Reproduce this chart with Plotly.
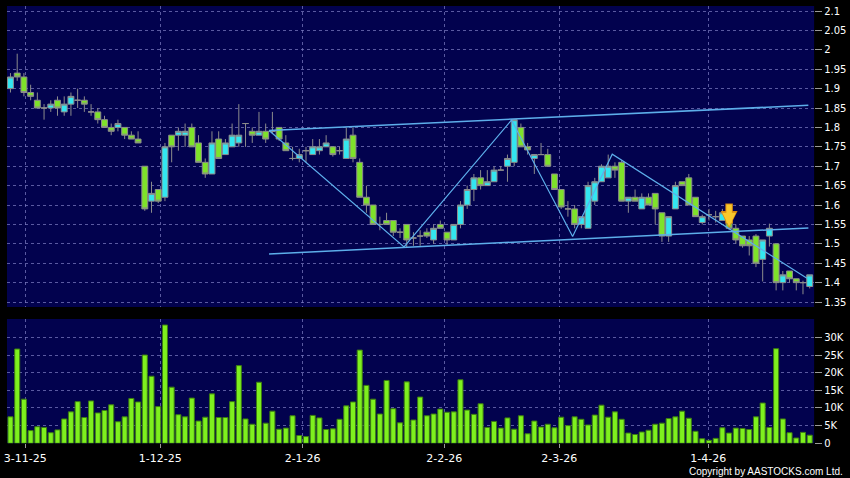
import plotly.graph_objects as go

# ---------------- data ----------------
opens = [1.90, 1.94, 1.93, 1.89, 1.87, 1.85, 1.85, 1.87, 1.84, 1.86,
         1.87, 1.87, 1.84, 1.84, 1.82, 1.80, 1.80, 1.80, 1.78, 1.77,
         1.70, 1.61, 1.64, 1.62, 1.78, 1.78, 1.78, 1.80, 1.76, 1.71,
         1.68, 1.77, 1.73, 1.75, 1.76, 1.81, 1.79, 1.78, 1.79, 1.79,
         1.80, 1.76, 1.72, 1.72, 1.74, 1.73, 1.74, 1.75, 1.75, 1.74,
         1.72, 1.78, 1.71, 1.62, 1.60, 1.55, 1.56, 1.56, 1.53, 1.55,
         1.515, 1.52, 1.53, 1.51, 1.55, 1.53, 1.51, 1.55, 1.60, 1.64,
         1.67, 1.65, 1.66, 1.69, 1.70, 1.71, 1.80, 1.75, 1.72, 1.73,
         1.73, 1.68, 1.64, 1.59, 1.59, 1.55, 1.54, 1.61, 1.66, 1.67,
         1.70, 1.71, 1.61, 1.62, 1.59, 1.62, 1.63, 1.58, 1.52, 1.59,
         1.66, 1.67, 1.62, 1.555, 1.575, 1.57, 1.56, 1.56, 1.54, 1.52,
         1.51, 1.52, 1.46, 1.52, 1.50, 1.40, 1.43, 1.41, 1.40, 1.39]
highs = [1.94, 1.99, 1.94, 1.91, 1.89, 1.86, 1.87, 1.88, 1.88, 1.89,
         1.90, 1.88, 1.86, 1.85, 1.83, 1.81, 1.82, 1.80, 1.79, 1.79,
         1.70, 1.66, 1.64, 1.76, 1.78, 1.80, 1.81, 1.81, 1.78, 1.72,
         1.79, 1.79, 1.77, 1.81, 1.86, 1.81, 1.80, 1.84, 1.81, 1.84,
         1.80, 1.78, 1.75, 1.745, 1.75, 1.77, 1.77, 1.78, 1.75, 1.75,
         1.80, 1.80, 1.72, 1.65, 1.60, 1.57, 1.58, 1.56, 1.54, 1.55,
         1.53, 1.535, 1.54, 1.55, 1.56, 1.53, 1.55, 1.61, 1.65, 1.68,
         1.69, 1.69, 1.70, 1.70, 1.73, 1.82, 1.81, 1.76, 1.73, 1.76,
         1.745, 1.68, 1.64, 1.61, 1.60, 1.57, 1.66, 1.67, 1.705, 1.73,
         1.71, 1.715, 1.62, 1.64, 1.63, 1.63, 1.63, 1.58, 1.57, 1.66,
         1.66, 1.68, 1.62, 1.575, 1.59, 1.585, 1.59, 1.57, 1.55, 1.52,
         1.52, 1.525, 1.51, 1.552, 1.50, 1.43, 1.43, 1.41, 1.405, 1.42]
lows = [1.89, 1.92, 1.88, 1.87, 1.85, 1.82, 1.84, 1.83, 1.83, 1.83,
        1.85, 1.84, 1.83, 1.81, 1.80, 1.78, 1.79, 1.77, 1.77, 1.76,
        1.585, 1.58, 1.605, 1.61, 1.71, 1.74, 1.75, 1.75, 1.71, 1.67,
        1.68, 1.72, 1.73, 1.75, 1.75, 1.75, 1.76, 1.78, 1.76, 1.785,
        1.765, 1.74, 1.715, 1.71, 1.71, 1.73, 1.73, 1.75, 1.725, 1.73,
        1.72, 1.71, 1.62, 1.58, 1.55, 1.535, 1.55, 1.52, 1.515, 1.49,
        1.495, 1.495, 1.515, 1.50, 1.54, 1.495, 1.51, 1.54, 1.59, 1.61,
        1.64, 1.65, 1.66, 1.69, 1.66, 1.70, 1.75, 1.73, 1.68, 1.73,
        1.70, 1.64, 1.59, 1.57, 1.54, 1.54, 1.54, 1.60, 1.66, 1.67,
        1.67, 1.61, 1.58, 1.61, 1.59, 1.60, 1.55, 1.505, 1.505, 1.59,
        1.65, 1.60, 1.57, 1.55, 1.56, 1.555, 1.56, 1.535, 1.50, 1.49,
        1.47, 1.44, 1.403, 1.493, 1.38, 1.38, 1.40, 1.38, 1.37, 1.385]
closes = [1.93, 1.93, 1.89, 1.88, 1.85, 1.85, 1.86, 1.85, 1.86, 1.88,
          1.87, 1.86, 1.84, 1.82, 1.80, 1.79, 1.81, 1.78, 1.77, 1.76,
          1.59, 1.63, 1.61, 1.75, 1.75, 1.79, 1.79, 1.75, 1.71, 1.68,
          1.76, 1.72, 1.76, 1.78, 1.78, 1.81, 1.78, 1.79, 1.77, 1.79,
          1.77, 1.74, 1.72, 1.73, 1.74, 1.75, 1.75, 1.76, 1.73, 1.74,
          1.77, 1.72, 1.62, 1.60, 1.55, 1.55, 1.55, 1.53, 1.53, 1.51,
          1.515, 1.52, 1.52, 1.54, 1.54, 1.51, 1.55, 1.60, 1.64, 1.67,
          1.65, 1.66, 1.69, 1.69, 1.72, 1.82, 1.75, 1.742, 1.73, 1.73,
          1.70, 1.64, 1.595, 1.59, 1.55, 1.57, 1.65, 1.66, 1.70, 1.70,
          1.69, 1.61, 1.62, 1.61, 1.62, 1.60, 1.59, 1.52, 1.57, 1.65,
          1.65, 1.60, 1.57, 1.57, 1.575, 1.57, 1.58, 1.54, 1.51, 1.495,
          1.495, 1.45, 1.51, 1.54, 1.40, 1.42, 1.41, 1.40, 1.40, 1.42]
volumes_k = [7.5, 26.7, 12.5, 3.6, 4.7, 4.5, 3.0, 3.8, 6.9, 8.9,
             11.8, 7.3, 12.0, 8.6, 9.3, 10.9, 6.1, 7.5, 12.7, 11.7,
             25.0, 19.0, 10.4, 33.5, 15.9, 8.1, 7.5, 12.8, 6.3, 7.4,
             14.0, 7.3, 7.3, 11.8, 22.0, 6.9, 5.4, 17.3, 5.7, 9.1,
             4.0, 4.3, 7.8, 2.2, 1.9, 7.9, 7.2, 3.9, 4.1, 6.8,
             10.6, 11.7, 26.4, 16.4, 12.5, 8.3, 17.8, 9.8, 5.8, 17.4,
             6.6, 13.1, 7.8, 8.3, 9.7, 8.8, 8.9, 18.0, 9.4, 8.2,
             11.2, 4.5, 6.2, 4.3, 7.2, 4.0, 7.8, 2.7, 6.3, 4.6,
             5.4, 4.4, 7.4, 5.0, 7.5, 6.8, 5.2, 8.0, 10.8, 7.4,
             8.9, 6.8, 2.9, 2.5, 3.2, 3.7, 5.4, 5.7, 7.0, 7.5,
             9.1, 7.1, 3.4, 1.3, 0.85, 1.4, 4.4, 2.9, 4.3, 4.2,
             3.9, 7.5, 11.4, 4.5, 26.8, 6.9, 3.0, 1.5, 3.1, 2.3]

date_labels = ["3-11-25", "1-12-25", "2-1-26", "2-2-26", "2-3-26", "1-4-26"]
date_label_pos = [2.2, 22.3, 43.5, 64.6, 81.7, 103.9]   # in bar-index units

price_ticks = [2.1, 2.05, 2.0, 1.95, 1.9, 1.85, 1.8, 1.75, 1.7, 1.65,
               1.6, 1.55, 1.5, 1.45, 1.4, 1.35]
price_tick_text = ["2.1", "2.05", "2", "1.95", "1.9", "1.85", "1.8", "1.75",
                   "1.7", "1.65", "1.6", "1.55", "1.5", "1.45", "1.4", "1.35"]
vol_ticks = [0, 5000, 10000, 15000, 20000, 25000, 30000]
vol_tick_text = ["0", "5K", "10K", "15K", "20K", "25K", "30K"]

# drawn trend lines (bar index, price)
zigzag_idx = [38.5, 58.6, 74.6, 83.7, 89.6, 118.6]
zigzag_price = [1.792, 1.492, 1.819, 1.519, 1.731, 1.411]
upper_idx = [38.5, 118.8]
upper_price = [1.792, 1.857]
lower_idx = [38.5, 118.8]
lower_price = [1.474, 1.541]

signal_idx = 107
signal_price = 1.541

# ---------------- figure ----------------
idx = list(range(len(opens)))
volumes = [v * 1000 for v in volumes_k]

W, H = 850, 478
x_dom = [4 / W, 814 / W]
x_rng = [-0.52, 119.66]
price_dom = [1 - 307 / H, 1 - 6 / H]
vol_dom = [1 - 443.3 / H, 1 - 319 / H]

grid_col = "rgba(120,120,190,0.75)"
line_col = "#5DAEEA"
font_fam = "DejaVu Sans"

fig = go.Figure()

fig.add_trace(go.Scatter(x=upper_idx, y=upper_price, mode="lines",
                         line=dict(color=line_col, width=1.5),
                         xaxis="x", yaxis="y", hoverinfo="skip"))
fig.add_trace(go.Scatter(x=lower_idx, y=lower_price, mode="lines",
                         line=dict(color=line_col, width=1.5),
                         xaxis="x", yaxis="y", hoverinfo="skip"))
fig.add_trace(go.Scatter(x=zigzag_idx, y=zigzag_price, mode="lines",
                         line=dict(color=line_col, width=1.2),
                         xaxis="x", yaxis="y", hoverinfo="skip"))

fig.add_trace(go.Candlestick(
    x=idx, open=opens, high=highs, low=lows, close=closes,
    increasing=dict(fillcolor="#33E6F0", line=dict(color="#8C8C8C", width=1)),
    decreasing=dict(fillcolor="#7EE22A", line=dict(color="#8C8C8C", width=1)),
    whiskerwidth=0, xaxis="x", yaxis="y", hoverinfo="skip"))

fig.add_trace(go.Bar(x=idx, y=volumes, xaxis="x2", yaxis="y2",
                     marker=dict(color="#7EF01E", line=dict(color="#3C7C12", width=1)),
                     hoverinfo="skip"))

# signal arrow: orange rim under a gold arrow
fig.add_annotation(x=signal_idx, y=signal_price, xref="x", yref="y",
                   text="", showarrow=True, ax=0, ay=-26, standoff=0,
                   arrowhead=2, arrowwidth=7.5, arrowsize=0.45,
                   arrowcolor="#D98A10")
fig.add_annotation(x=signal_idx, y=signal_price, xref="x", yref="y",
                   text="", showarrow=True, ax=0, ay=-25, standoff=1.5,
                   arrowhead=2, arrowwidth=5.5, arrowsize=0.5,
                   arrowcolor="#F8C82C")

fig.add_annotation(x=845 / W, y=1 - 471 / H, xref="paper", yref="paper",
                   xanchor="right", yanchor="middle", showarrow=False,
                   text="Copyright by AASTOCKS.com Ltd.",
                   font=dict(color="white", size=10, family="Liberation Sans"))

axis_common = dict(showline=False, zeroline=False, showgrid=True,
                   gridcolor=grid_col, griddash="3px,3px", gridwidth=1)

fig.update_layout(
    width=W, height=H, margin=dict(l=0, r=0, t=0, b=0),
    paper_bgcolor="black", plot_bgcolor="#02024E",
    showlegend=False, boxgap=0.12, boxgroupgap=0, bargap=0.25,
    xaxis=dict(domain=x_dom, range=x_rng, anchor="y", tickvals=date_label_pos,
               showticklabels=False, ticks="", rangeslider=dict(visible=False),
               **axis_common),
    xaxis2=dict(domain=x_dom, range=x_rng, anchor="y2", matches="x",
                tickvals=date_label_pos, ticktext=date_labels,
                ticks="outside", ticklen=4, tickcolor="#9A9A9A",
                tickfont=dict(color="white", size=11, family=font_fam),
                **axis_common),
    yaxis=dict(domain=price_dom, range=[1.3372, 2.1129], side="right",
               anchor="x", tickvals=price_ticks, ticktext=price_tick_text,
               ticks="outside", ticklen=7, tickcolor="#9A9A9A",
               tickfont=dict(color="white", size=10, family=font_fam),
               automargin=False, **axis_common),
    yaxis2=dict(domain=vol_dom, range=[0, 35200], side="right",
                anchor="x2", tickvals=vol_ticks, ticktext=vol_tick_text,
                ticks="outside", ticklen=7, tickcolor="#9A9A9A",
                tickfont=dict(color="white", size=10, family=font_fam),
                automargin=False, **axis_common),
)

fig.write_html("out.html", config={"displayModeBar": False},
               post_script="document.body.style.margin='0px';document.body.style.overflow='hidden';")
